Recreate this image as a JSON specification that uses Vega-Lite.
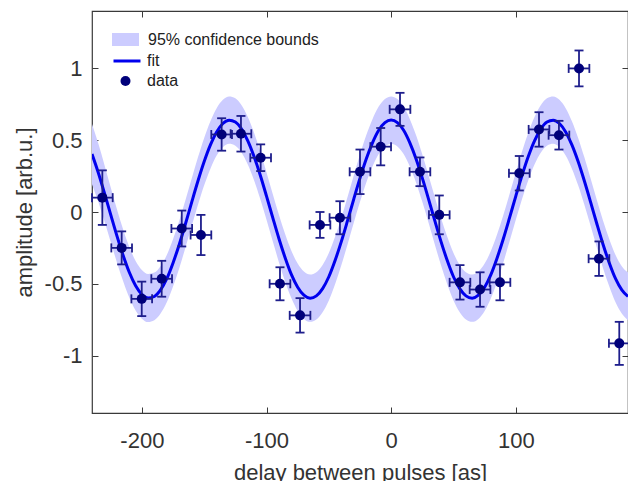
{
  "$schema": "https://vega.github.io/schema/vega-lite/v6.json",
  "width": 536,
  "height": 402,
  "autosize": "none",
  "padding": {"left": 92, "top": 11, "right": 0, "bottom": 68},
  "background": "white",
  "config": {
    "font": "Liberation Sans",
    "view": {"stroke": "#3a3a3a", "strokeWidth": 1.2},
    "axis": {
      "grid": false,
      "domain": false,
      "labelFont": "Liberation Sans",
      "labelFontSize": 22,
      "labelColor": "#333333",
      "titleFont": "Liberation Sans",
      "titleFontSize": 22,
      "titleFontWeight": "normal",
      "titleColor": "#333333",
      "tickColor": "#3a3a3a",
      "tickWidth": 1,
      "tickSize": -6
    },
    "legend": {
      "title": null,
      "padding": 0,
      "labelFont": "Liberation Sans",
      "labelFontSize": 16,
      "labelColor": "#222222",
      "labelLimit": 400,
      "orient": "none"
    },
    "tick": {"thickness": 1.8}
  },
  "datasets": {
    "fit": [
      {"x": -240, "fit": 0.4035, "lo": 0.1935, "hi": 0.6135},
      {"x": -235, "fit": 0.2753, "lo": 0.0725, "hi": 0.4781},
      {"x": -230, "fit": 0.1316, "lo": -0.0647, "hi": 0.3279},
      {"x": -225, "fit": -0.0183, "lo": -0.2086, "hi": 0.172},
      {"x": -220, "fit": -0.1661, "lo": -0.3511, "hi": 0.0189},
      {"x": -215, "fit": -0.3023, "lo": -0.4826, "hi": -0.122},
      {"x": -210, "fit": -0.4214, "lo": -0.5977, "hi": -0.2451},
      {"x": -205, "fit": -0.5134, "lo": -0.6862, "hi": -0.3406},
      {"x": -200, "fit": -0.5733, "lo": -0.7433, "hi": -0.4033},
      {"x": -195, "fit": -0.5992, "lo": -0.767, "hi": -0.4314},
      {"x": -190, "fit": -0.5884, "lo": -0.7547, "hi": -0.4221},
      {"x": -185, "fit": -0.5424, "lo": -0.7077, "hi": -0.3771},
      {"x": -180, "fit": -0.4643, "lo": -0.6293, "hi": -0.2993},
      {"x": -175, "fit": -0.3547, "lo": -0.5197, "hi": -0.1897},
      {"x": -170, "fit": -0.226, "lo": -0.391, "hi": -0.061},
      {"x": -165, "fit": -0.082, "lo": -0.247, "hi": 0.083},
      {"x": -160, "fit": 0.0689, "lo": -0.0961, "hi": 0.2339},
      {"x": -155, "fit": 0.2157, "lo": 0.0507, "hi": 0.3807},
      {"x": -150, "fit": 0.351, "lo": 0.186, "hi": 0.516},
      {"x": -145, "fit": 0.4671, "lo": 0.3021, "hi": 0.6321},
      {"x": -140, "fit": 0.558, "lo": 0.393, "hi": 0.723},
      {"x": -135, "fit": 0.6164, "lo": 0.4514, "hi": 0.7814},
      {"x": -130, "fit": 0.6396, "lo": 0.4746, "hi": 0.8046},
      {"x": -125, "fit": 0.6265, "lo": 0.4615, "hi": 0.7915},
      {"x": -120, "fit": 0.5778, "lo": 0.4128, "hi": 0.7428},
      {"x": -115, "fit": 0.4962, "lo": 0.3312, "hi": 0.6612},
      {"x": -110, "fit": 0.3869, "lo": 0.2219, "hi": 0.5519},
      {"x": -105, "fit": 0.256, "lo": 0.091, "hi": 0.421},
      {"x": -100, "fit": 0.1108, "lo": -0.0542, "hi": 0.2758},
      {"x": -95, "fit": -0.0394, "lo": -0.2044, "hi": 0.1256},
      {"x": -90, "fit": -0.1861, "lo": -0.3511, "hi": -0.0211},
      {"x": -85, "fit": -0.32, "lo": -0.485, "hi": -0.155},
      {"x": -80, "fit": -0.4361, "lo": -0.6011, "hi": -0.2711},
      {"x": -75, "fit": -0.5242, "lo": -0.6892, "hi": -0.3592},
      {"x": -70, "fit": -0.5794, "lo": -0.7444, "hi": -0.4144},
      {"x": -65, "fit": -0.5999, "lo": -0.7649, "hi": -0.4349},
      {"x": -60, "fit": -0.5841, "lo": -0.7491, "hi": -0.4191},
      {"x": -55, "fit": -0.5333, "lo": -0.6983, "hi": -0.3683},
      {"x": -50, "fit": -0.4509, "lo": -0.6159, "hi": -0.2859},
      {"x": -45, "fit": -0.3379, "lo": -0.5029, "hi": -0.1729},
      {"x": -40, "fit": -0.2065, "lo": -0.3715, "hi": -0.0415},
      {"x": -35, "fit": -0.0606, "lo": -0.2256, "hi": 0.1044},
      {"x": -30, "fit": 0.0899, "lo": -0.0751, "hi": 0.2549},
      {"x": -25, "fit": 0.2356, "lo": 0.0706, "hi": 0.4006},
      {"x": -20, "fit": 0.3689, "lo": 0.2039, "hi": 0.5339},
      {"x": -15, "fit": 0.4815, "lo": 0.3165, "hi": 0.6465},
      {"x": -10, "fit": 0.5692, "lo": 0.4042, "hi": 0.7342},
      {"x": -5, "fit": 0.622, "lo": 0.457, "hi": 0.787},
      {"x": 0, "fit": 0.64, "lo": 0.475, "hi": 0.805},
      {"x": 5, "fit": 0.622, "lo": 0.457, "hi": 0.787},
      {"x": 10, "fit": 0.5692, "lo": 0.4042, "hi": 0.7342},
      {"x": 15, "fit": 0.4815, "lo": 0.3165, "hi": 0.6465},
      {"x": 20, "fit": 0.3689, "lo": 0.2039, "hi": 0.5339},
      {"x": 25, "fit": 0.2356, "lo": 0.0706, "hi": 0.4006},
      {"x": 30, "fit": 0.0899, "lo": -0.0751, "hi": 0.2549},
      {"x": 35, "fit": -0.0606, "lo": -0.2256, "hi": 0.1044},
      {"x": 40, "fit": -0.2065, "lo": -0.3715, "hi": -0.0415},
      {"x": 45, "fit": -0.3379, "lo": -0.5029, "hi": -0.1729},
      {"x": 50, "fit": -0.4509, "lo": -0.6159, "hi": -0.2859},
      {"x": 55, "fit": -0.5333, "lo": -0.6983, "hi": -0.3683},
      {"x": 60, "fit": -0.5841, "lo": -0.7491, "hi": -0.4191},
      {"x": 65, "fit": -0.5999, "lo": -0.7649, "hi": -0.4349},
      {"x": 70, "fit": -0.5794, "lo": -0.7444, "hi": -0.4144},
      {"x": 75, "fit": -0.5242, "lo": -0.6892, "hi": -0.3592},
      {"x": 80, "fit": -0.4361, "lo": -0.6011, "hi": -0.2711},
      {"x": 85, "fit": -0.32, "lo": -0.485, "hi": -0.155},
      {"x": 90, "fit": -0.1861, "lo": -0.3511, "hi": -0.0211},
      {"x": 95, "fit": -0.0394, "lo": -0.2044, "hi": 0.1256},
      {"x": 100, "fit": 0.1108, "lo": -0.0542, "hi": 0.2758},
      {"x": 105, "fit": 0.256, "lo": 0.091, "hi": 0.421},
      {"x": 110, "fit": 0.3869, "lo": 0.2219, "hi": 0.5519},
      {"x": 115, "fit": 0.4962, "lo": 0.3312, "hi": 0.6612},
      {"x": 120, "fit": 0.5778, "lo": 0.4128, "hi": 0.7428},
      {"x": 125, "fit": 0.6265, "lo": 0.4615, "hi": 0.7915},
      {"x": 130, "fit": 0.6396, "lo": 0.4746, "hi": 0.8046},
      {"x": 135, "fit": 0.6164, "lo": 0.4514, "hi": 0.7814},
      {"x": 140, "fit": 0.558, "lo": 0.393, "hi": 0.723},
      {"x": 145, "fit": 0.4671, "lo": 0.3021, "hi": 0.6321},
      {"x": 150, "fit": 0.351, "lo": 0.186, "hi": 0.516},
      {"x": 155, "fit": 0.2157, "lo": 0.0507, "hi": 0.3807},
      {"x": 160, "fit": 0.0689, "lo": -0.0961, "hi": 0.2339},
      {"x": 165, "fit": -0.082, "lo": -0.247, "hi": 0.083},
      {"x": 170, "fit": -0.226, "lo": -0.391, "hi": -0.061},
      {"x": 175, "fit": -0.3547, "lo": -0.5197, "hi": -0.1897},
      {"x": 180, "fit": -0.4643, "lo": -0.6293, "hi": -0.2993},
      {"x": 185, "fit": -0.5424, "lo": -0.7077, "hi": -0.3771},
      {"x": 190, "fit": -0.5884, "lo": -0.7547, "hi": -0.4221}
    ],
    "pts": [
      {"x": -231.7, "y": 0.1, "ylo": -0.09, "yhi": 0.29, "xlo": -240.0, "xhi": -223.4},
      {"x": -216.2, "y": -0.25, "ylo": -0.365, "yhi": -0.135, "xlo": -224.5, "xhi": -207.9},
      {"x": -200.1, "y": -0.605, "ylo": -0.725, "yhi": -0.485, "xlo": -208.4, "xhi": -191.8},
      {"x": -184.1, "y": -0.465, "ylo": -0.59, "yhi": -0.34, "xlo": -192.4, "xhi": -175.8},
      {"x": -168.0, "y": -0.115, "ylo": -0.24, "yhi": 0.01, "xlo": -176.3, "xhi": -159.7},
      {"x": -152.6, "y": -0.16, "ylo": -0.3, "yhi": -0.02, "xlo": -160.9, "xhi": -144.3},
      {"x": -136.0, "y": 0.54, "ylo": 0.427, "yhi": 0.653, "xlo": -144.3, "xhi": -127.7},
      {"x": -120.5, "y": 0.545, "ylo": 0.421, "yhi": 0.669, "xlo": -128.8, "xhi": -112.2},
      {"x": -104.7, "y": 0.378, "ylo": 0.285, "yhi": 0.471, "xlo": -113.0, "xhi": -96.4},
      {"x": -89.2, "y": -0.5, "ylo": -0.615, "yhi": -0.385, "xlo": -97.5, "xhi": -80.9},
      {"x": -73.1, "y": -0.72, "ylo": -0.84, "yhi": -0.6, "xlo": -81.4, "xhi": -64.8},
      {"x": -57.1, "y": -0.09, "ylo": -0.18, "yhi": 0.0, "xlo": -65.4, "xhi": -48.8},
      {"x": -41.1, "y": -0.04, "ylo": -0.155, "yhi": 0.075, "xlo": -49.4, "xhi": -32.8},
      {"x": -25.0, "y": 0.28, "ylo": 0.125, "yhi": 0.435, "xlo": -33.3, "xhi": -16.7},
      {"x": -8.4, "y": 0.455, "ylo": 0.325, "yhi": 0.585, "xlo": -16.7, "xhi": -0.1},
      {"x": 7.1, "y": 0.715, "ylo": 0.6, "yhi": 0.83, "xlo": -1.2, "xhi": 15.4},
      {"x": 23.1, "y": 0.28, "ylo": 0.18, "yhi": 0.38, "xlo": 14.8, "xhi": 31.4},
      {"x": 38.6, "y": -0.02, "ylo": -0.155, "yhi": 0.115, "xlo": 30.3, "xhi": 46.9},
      {"x": 55.2, "y": -0.49, "ylo": -0.61, "yhi": -0.37, "xlo": 46.9, "xhi": 63.5},
      {"x": 71.3, "y": -0.54, "ylo": -0.66, "yhi": -0.42, "xlo": 63.0, "xhi": 79.6},
      {"x": 87.3, "y": -0.49, "ylo": -0.615, "yhi": -0.365, "xlo": 79.0, "xhi": 95.6},
      {"x": 102.8, "y": 0.27, "ylo": 0.15, "yhi": 0.39, "xlo": 94.5, "xhi": 111.1},
      {"x": 118.6, "y": 0.575, "ylo": 0.455, "yhi": 0.695, "xlo": 110.3, "xhi": 126.9},
      {"x": 134.6, "y": 0.535, "ylo": 0.435, "yhi": 0.635, "xlo": 126.3, "xhi": 142.9},
      {"x": 150.7, "y": 1.0, "ylo": 0.875, "yhi": 1.125, "xlo": 142.4, "xhi": 159.0},
      {"x": 166.7, "y": -0.325, "ylo": -0.445, "yhi": -0.205, "xlo": 158.4, "xhi": 175.0},
      {"x": 183.0, "y": -0.915, "ylo": -1.065, "yhi": -0.765, "xlo": 174.7, "xhi": 191.3}
    ]
  },
  "resolve": {"axis": {"x": "independent", "y": "independent"}},
  "layer": [
    {
      "data": {"name": "fit"},
      "mark": {"type": "area", "interpolate": "monotone", "opacity": 1, "clip": true},
      "encoding": {
        "x": {"field": "x", "type": "quantitative",
          "scale": {"domain": [-240, 190], "nice": false, "zero": false},
          "axis": {"orient": "bottom", "values": [-200, -100, 0, 100], "labelExpr": "'' + datum.value", "labelPadding": 23, "title": "delay between pulses [as]", "titleY": 66, "titleBaseline": "alphabetic"}},
        "y": {"field": "lo", "type": "quantitative",
          "scale": {"domain": [-1.4, 1.4], "nice": false, "zero": false},
          "axis": {"orient": "left", "values": [-1, -0.5, 0, 0.5, 1], "labelExpr": "'' + datum.value", "labelPadding": 16, "title": "amplitude [arb.u.]", "titleX": -61, "titleBaseline": "alphabetic"}},
        "y2": {"field": "hi"},
        "fill": {"datum": "95% confidence bounds", "type": "nominal",
          "scale": {"domain": ["95% confidence bounds"], "range": ["#ccccff"]},
          "legend": {"legendX": 20, "legendY": 15, "symbolType": "M-1,-0.48H1V0.48H-1Z", "symbolSize": 729, "labelOffset": 9, "symbolStrokeWidth": 0}}
      }
    },
    {
      "data": {"name": "fit"},
      "mark": {"type": "line", "interpolate": "monotone", "strokeWidth": 3, "clip": true},
      "encoding": {
        "x": {"field": "x", "type": "quantitative",
          "axis": {"orient": "top", "values": [-200, -100, 0, 100], "labels": false, "title": null}},
        "y": {"field": "fit", "type": "quantitative",
          "axis": {"orient": "right", "values": [-1, -0.5, 0, 0.5, 1], "labels": false, "title": null}},
        "stroke": {"datum": "fit", "type": "nominal",
          "scale": {"domain": ["fit"], "range": ["#0000ee"]},
          "legend": {"legendX": 20, "legendY": 35, "symbolType": "stroke", "symbolSize": 729, "symbolStrokeWidth": 3, "labelOffset": 5}}
      }
    },
    {
      "data": {"name": "pts"},
      "mark": {"type": "rule", "color": "#1e1e8c", "strokeWidth": 1.8},
      "encoding": {
        "x": {"field": "x", "type": "quantitative", "axis": null},
        "y": {"field": "ylo", "type": "quantitative", "axis": null},
        "y2": {"field": "yhi"}
      }
    },
    {
      "data": {"name": "pts"},
      "mark": {"type": "rule", "color": "#1e1e8c", "strokeWidth": 1.8},
      "encoding": {
        "x": {"field": "xlo", "type": "quantitative", "axis": null},
        "x2": {"field": "xhi"},
        "y": {"field": "y", "type": "quantitative", "axis": null}
      }
    },
    {
      "data": {"name": "pts"},
      "mark": {"type": "tick", "orient": "horizontal", "size": 9, "color": "#1e1e8c", "opacity": 1},
      "encoding": {
        "x": {"field": "x", "type": "quantitative", "axis": null},
        "y": {"field": "ylo", "type": "quantitative", "axis": null}
      }
    },
    {
      "data": {"name": "pts"},
      "mark": {"type": "tick", "orient": "horizontal", "size": 9, "color": "#1e1e8c", "opacity": 1},
      "encoding": {
        "x": {"field": "x", "type": "quantitative", "axis": null},
        "y": {"field": "yhi", "type": "quantitative", "axis": null}
      }
    },
    {
      "data": {"name": "pts"},
      "mark": {"type": "tick", "orient": "vertical", "size": 9, "color": "#1e1e8c", "opacity": 1},
      "encoding": {
        "x": {"field": "xlo", "type": "quantitative", "axis": null},
        "y": {"field": "y", "type": "quantitative", "axis": null}
      }
    },
    {
      "data": {"name": "pts"},
      "mark": {"type": "tick", "orient": "vertical", "size": 9, "color": "#1e1e8c", "opacity": 1},
      "encoding": {
        "x": {"field": "xhi", "type": "quantitative", "axis": null},
        "y": {"field": "y", "type": "quantitative", "axis": null}
      }
    },
    {
      "data": {"name": "pts"},
      "mark": {"type": "circle", "size": 100, "opacity": 1},
      "encoding": {
        "x": {"field": "x", "type": "quantitative", "axis": null},
        "y": {"field": "y", "type": "quantitative", "axis": null},
        "color": {"datum": "data", "type": "nominal",
          "scale": {"domain": ["data"], "range": ["#00007a"]},
          "legend": {"legendX": 25.5, "legendY": 62, "symbolType": "circle", "symbolSize": 100, "labelOffset": 13.5}}
      }
    }
  ]
}
